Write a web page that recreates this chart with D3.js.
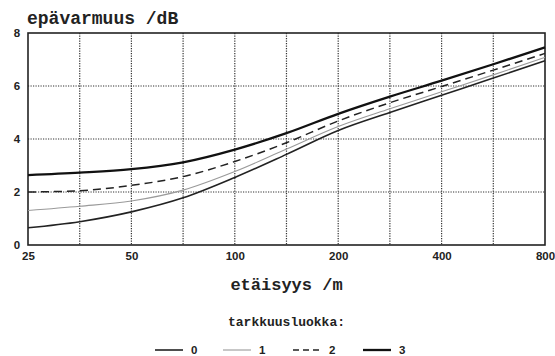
<!DOCTYPE html>
<html>
<head>
<meta charset="utf-8">
<script src="https://cdn.jsdelivr.net/npm/d3@7"></script>
<style>
  body { margin: 0; background: #fff; }
  text { font-family: "Liberation Mono", "DejaVu Sans Mono", monospace; font-weight: bold; fill: #222; }
  .tick-lbl { font-family: "Liberation Sans", Arial, sans-serif; font-size: 11.5px; }
</style>
</head>
<body>
<svg id="chart" width="555" height="356"></svg>
<script>
// distances (m), grid every half octave
var distances = [25, 35.36, 50, 70.71, 100, 141.4, 200, 282.8, 400, 565.7, 800];
var xLabels = [25, 50, 100, 200, 400, 800];
var yTicks = [0, 2, 4, 6, 8];

var class0 = [0.65, 0.88, 1.25, 1.78, 2.55, 3.42, 4.32, 5.0, 5.65, 6.3, 6.95];
var class1 = [1.3, 1.46, 1.66, 2.07, 2.77, 3.62, 4.47, 5.14, 5.78, 6.42, 7.08];
var class2 = [2.0, 2.05, 2.25, 2.58, 3.15, 3.86, 4.68, 5.37, 5.98, 6.6, 7.23];
var class3 = [2.64, 2.73, 2.86, 3.12, 3.6, 4.22, 4.95, 5.6, 6.2, 6.82, 7.46];
var classNames = ["0", "1", "2", "3"];

var margin = { top: 33, right: 10, bottom: 111, left: 28 },
    width = 555 - margin.left - margin.right,
    height = 356 - margin.top - margin.bottom;

var svg = d3.select("#chart");

var xScale = d3.scaleLog().base(2).domain([25, 800]).range([0, width]);
var yScale = d3.scaleLinear().domain([0, 8]).range([height, 0]);

var g = svg.append("g")
    .attr("transform", "translate(" + margin.left + "," + margin.top + ")");

// grid
g.selectAll(".vgrid")
    .data(distances.slice(1, -1)).enter()
    .append("line")
    .attr("x1", function (d) { return xScale(d); })
    .attr("x2", function (d) { return xScale(d); })
    .attr("y1", 0).attr("y2", height)
    .attr("stroke", "#333").attr("stroke-width", 1.2)
    .attr("stroke-dasharray", "1.2,1.3");

g.selectAll(".hgrid")
    .data(yTicks.slice(1, -1)).enter()
    .append("line")
    .attr("x1", 0).attr("x2", width)
    .attr("y1", function (d) { return yScale(d); })
    .attr("y2", function (d) { return yScale(d); })
    .attr("stroke", "#333").attr("stroke-width", 1.2)
    .attr("stroke-dasharray", "1.2,1.3");

// frame
g.append("rect")
    .attr("width", width).attr("height", height)
    .attr("fill", "none").attr("stroke", "#222").attr("stroke-width", 1.6);

// axes labels
var xAxis = d3.axisBottom(xScale).tickValues(xLabels).tickSize(0).tickPadding(7)
    .tickFormat(d3.format("d"));
var xg = g.append("g").attr("transform", "translate(0," + height + ")").call(xAxis);
xg.select(".domain").remove();
xg.selectAll("text").attr("class", "tick-lbl");

var yAxis = d3.axisLeft(yScale).tickValues(yTicks).tickSize(0).tickPadding(8);
var yg = g.append("g").call(yAxis);
yg.select(".domain").remove();
yg.selectAll("text").attr("class", "tick-lbl").attr("text-anchor", "middle").attr("x", -11);

// curves
var series = [
    { name: "0", values: class0, color: "#222", w: 1.6, dash: null },
    { name: "1", values: class1, color: "#9a9a9a", w: 1.1, dash: null },
    { name: "2", values: class2, color: "#222", w: 1.5, dash: "8,5" },
    { name: "3", values: class3, color: "#111", w: 2.3, dash: null }
];

var line = d3.line()
    .x(function (d, i) { return xScale(distances[i]); })
    .y(function (d) { return yScale(d); })
    .curve(d3.curveMonotoneX);

g.selectAll(".curve")
    .data(series).enter()
    .append("path")
    .attr("d", function (d) { return line(d.values); })
    .attr("fill", "none")
    .attr("stroke", function (d) { return d.color; })
    .attr("stroke-width", function (d) { return d.w; })
    .attr("stroke-dasharray", function (d) { return d.dash; });

// titles
svg.append("text").attr("x", 27).attr("y", 24)
    .style("font-size", "18px").text("epävarmuus /dB");

svg.append("text").attr("x", margin.left + width / 2).attr("y", 290)
    .attr("text-anchor", "middle").style("font-size", "17px").text("etäisyys /m");

svg.append("text").attr("x", margin.left + width / 2).attr("y", 326)
    .attr("text-anchor", "middle").style("font-size", "13px").text("tarkkuusluokka:");

// legend
var legendX = [155, 223, 293, 363];
var leg = svg.selectAll(".leg")
    .data(series).enter()
    .append("g")
    .attr("transform", function (d, i) { return "translate(" + legendX[i] + ",350)"; });

leg.append("line")
    .attr("x1", 0).attr("x2", 28).attr("y1", 0).attr("y2", 0)
    .attr("stroke", function (d) { return d.color; })
    .attr("stroke-width", function (d) { return d.w; })
    .attr("stroke-dasharray", function (d) { return d.dash ? "6,4" : null; });

leg.append("text")
    .attr("x", 36).attr("y", 4)
    .attr("class", "tick-lbl")
    .text(function (d, i) { return classNames[i]; });
</script>
</body>
</html>
